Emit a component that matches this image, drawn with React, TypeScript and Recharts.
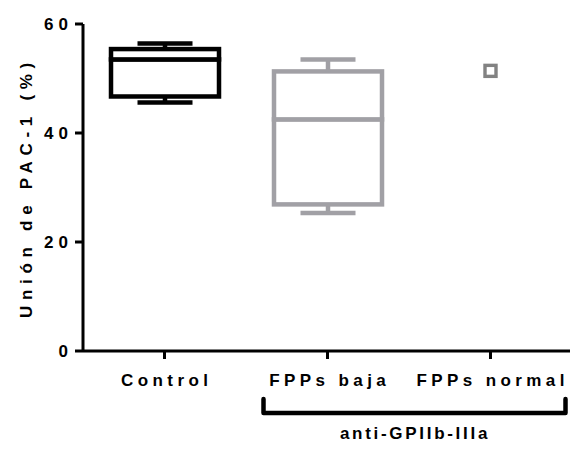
import { ComposedChart, Bar, Scatter, XAxis, YAxis } from "recharts";

const categories = ["Control", "FPPs baja", "FPPs normal"];
const mins = [45.6, 25.3, null];
const q1s = [46.7, 26.9, null];
const medians = [53.5, 42.5, null];
const q3s = [55.4, 51.3, null];
const maxs = [56.4, 53.5, null];
const singles = [null, null, 51.4];
const yTicks = [0, 20, 40, 60];

const colors = ["#000000", "#a1a0a5", "#828282"];
const FONT = "'Liberation Sans', Arial, sans-serif";

const rows = categories.map((cat, i) => {
  const has = mins[i] != null;
  return {
    cat,
    color: colors[i],
    has,
    base: has ? mins[i] : null,
    lowW: has ? q1s[i]! - mins[i]! : null,
    lowBox: has ? medians[i]! - q1s[i]! : null,
    highBox: has ? q3s[i]! - medians[i]! : null,
    highW: has ? maxs[i]! - q3s[i]! : null,
    single: singles[i],
  };
});

const SW = 4.5;
const CAP = 27.5;

const BoxPart = (p: any) => {
  if (!p.payload?.has) return <g />;
  return (
    <rect x={p.x} y={p.y} width={p.width} height={p.height} fill="#fff" stroke={p.payload.color} strokeWidth={SW} />
  );
};

const LowWhisker = (p: any) => {
  if (!p.payload?.has) return <g />;
  const cx = p.x + p.width / 2;
  const yb = p.y + p.height;
  return (
    <g stroke={p.payload.color} strokeWidth={SW}>
      <line x1={cx} x2={cx} y1={p.y} y2={yb} />
      <line x1={cx - CAP} x2={cx + CAP} y1={yb} y2={yb} />
    </g>
  );
};

const HighWhisker = (p: any) => {
  if (!p.payload?.has) return <g />;
  const cx = p.x + p.width / 2;
  return (
    <g stroke={p.payload.color} strokeWidth={SW}>
      <line x1={cx} x2={cx} y1={p.y} y2={p.y + p.height} />
      <line x1={cx - CAP} x2={cx + CAP} y1={p.y} y2={p.y} />
    </g>
  );
};

const Square = (p: any) => {
  if (p.payload?.single == null || p.cy == null) return <g />;
  return (
    <rect x={p.cx - 5.5} y={p.cy - 5.5} width={11} height={11} fill="#fff" stroke={p.payload.color} strokeWidth={3.4} />
  );
};

const XTick = ({ x, y, payload }: any) => (
  <text x={x + 2.2} y={y} dy={27} textAnchor="middle" fontFamily={FONT} fontSize={17} fontWeight="bold" letterSpacing={4.4} fill="#000">
    {payload.value}
  </text>
);

const YTick = ({ x, y, payload }: any) => (
  <text x={x} y={y} dy={6} textAnchor="end" fontFamily={FONT} fontSize={17} fontWeight="bold" letterSpacing={5} fill="#000">
    {payload.value}
  </text>
);

const YLabel = (props: any) => {
  const vb = props.viewBox || { y: 24, height: 327 };
  const cy = vb.y + vb.height / 2;
  return (
    <text x={31.5} y={cy} transform={`rotate(-90 31.5 ${cy})`} textAnchor="middle" fontFamily={FONT} fontSize={17} fontWeight="bold" letterSpacing={5.7} fill="#000">
      Unión de PAC-1 (%)
    </text>
  );
};

export default function App() {
  return (
    <div style={{ position: "absolute", left: 0, top: 0, width: 570, height: 459, overflow: "hidden", background: "#fff" }}>
      <ComposedChart width={572} height={459} data={rows} margin={{ top: 24, right: 0, bottom: 68, left: 0 }}>
        <XAxis
          dataKey="cat"
          axisLine={{ stroke: "#000", strokeWidth: 3 }}
          tickLine={{ stroke: "#000", strokeWidth: 3 }}
          tickSize={8}
          tickMargin={0}
          height={40}
          tick={<XTick />}
          interval={0}
        />
        <YAxis
          domain={[0, 60]}
          ticks={yTicks}
          width={83}
          axisLine={{ stroke: "#000", strokeWidth: 3 }}
          tickLine={{ stroke: "#000", strokeWidth: 3 }}
          tickSize={8}
          tick={<YTick />}
          label={{ position: "center", content: YLabel }}
        />
        <Bar dataKey="base" stackId="box" fill="none" barSize={108} isAnimationActive={false} />
        <Bar dataKey="lowW" stackId="box" shape={LowWhisker} barSize={108} isAnimationActive={false} />
        <Bar dataKey="lowBox" stackId="box" shape={BoxPart} barSize={108} isAnimationActive={false} />
        <Bar dataKey="highBox" stackId="box" shape={BoxPart} barSize={108} isAnimationActive={false} />
        <Bar dataKey="highW" stackId="box" shape={HighWhisker} barSize={108} isAnimationActive={false} />
        <Scatter dataKey="single" shape={Square} isAnimationActive={false} />
      </ComposedChart>
      <svg width={570} height={459} style={{ position: "absolute", left: 0, top: 0, pointerEvents: "none" }}>
        <path d="M263.5 399 V413 H565.5 V399" fill="none" stroke="#000" strokeWidth={4.5} strokeLinejoin="round" strokeLinecap="round" />
        <text x={415} y={438.5} textAnchor="middle" fontFamily={FONT} fontSize={17} fontWeight="bold" letterSpacing={2.7} fill="#000">
          anti-GPIIb-IIIa
        </text>
      </svg>
    </div>
  );
}
